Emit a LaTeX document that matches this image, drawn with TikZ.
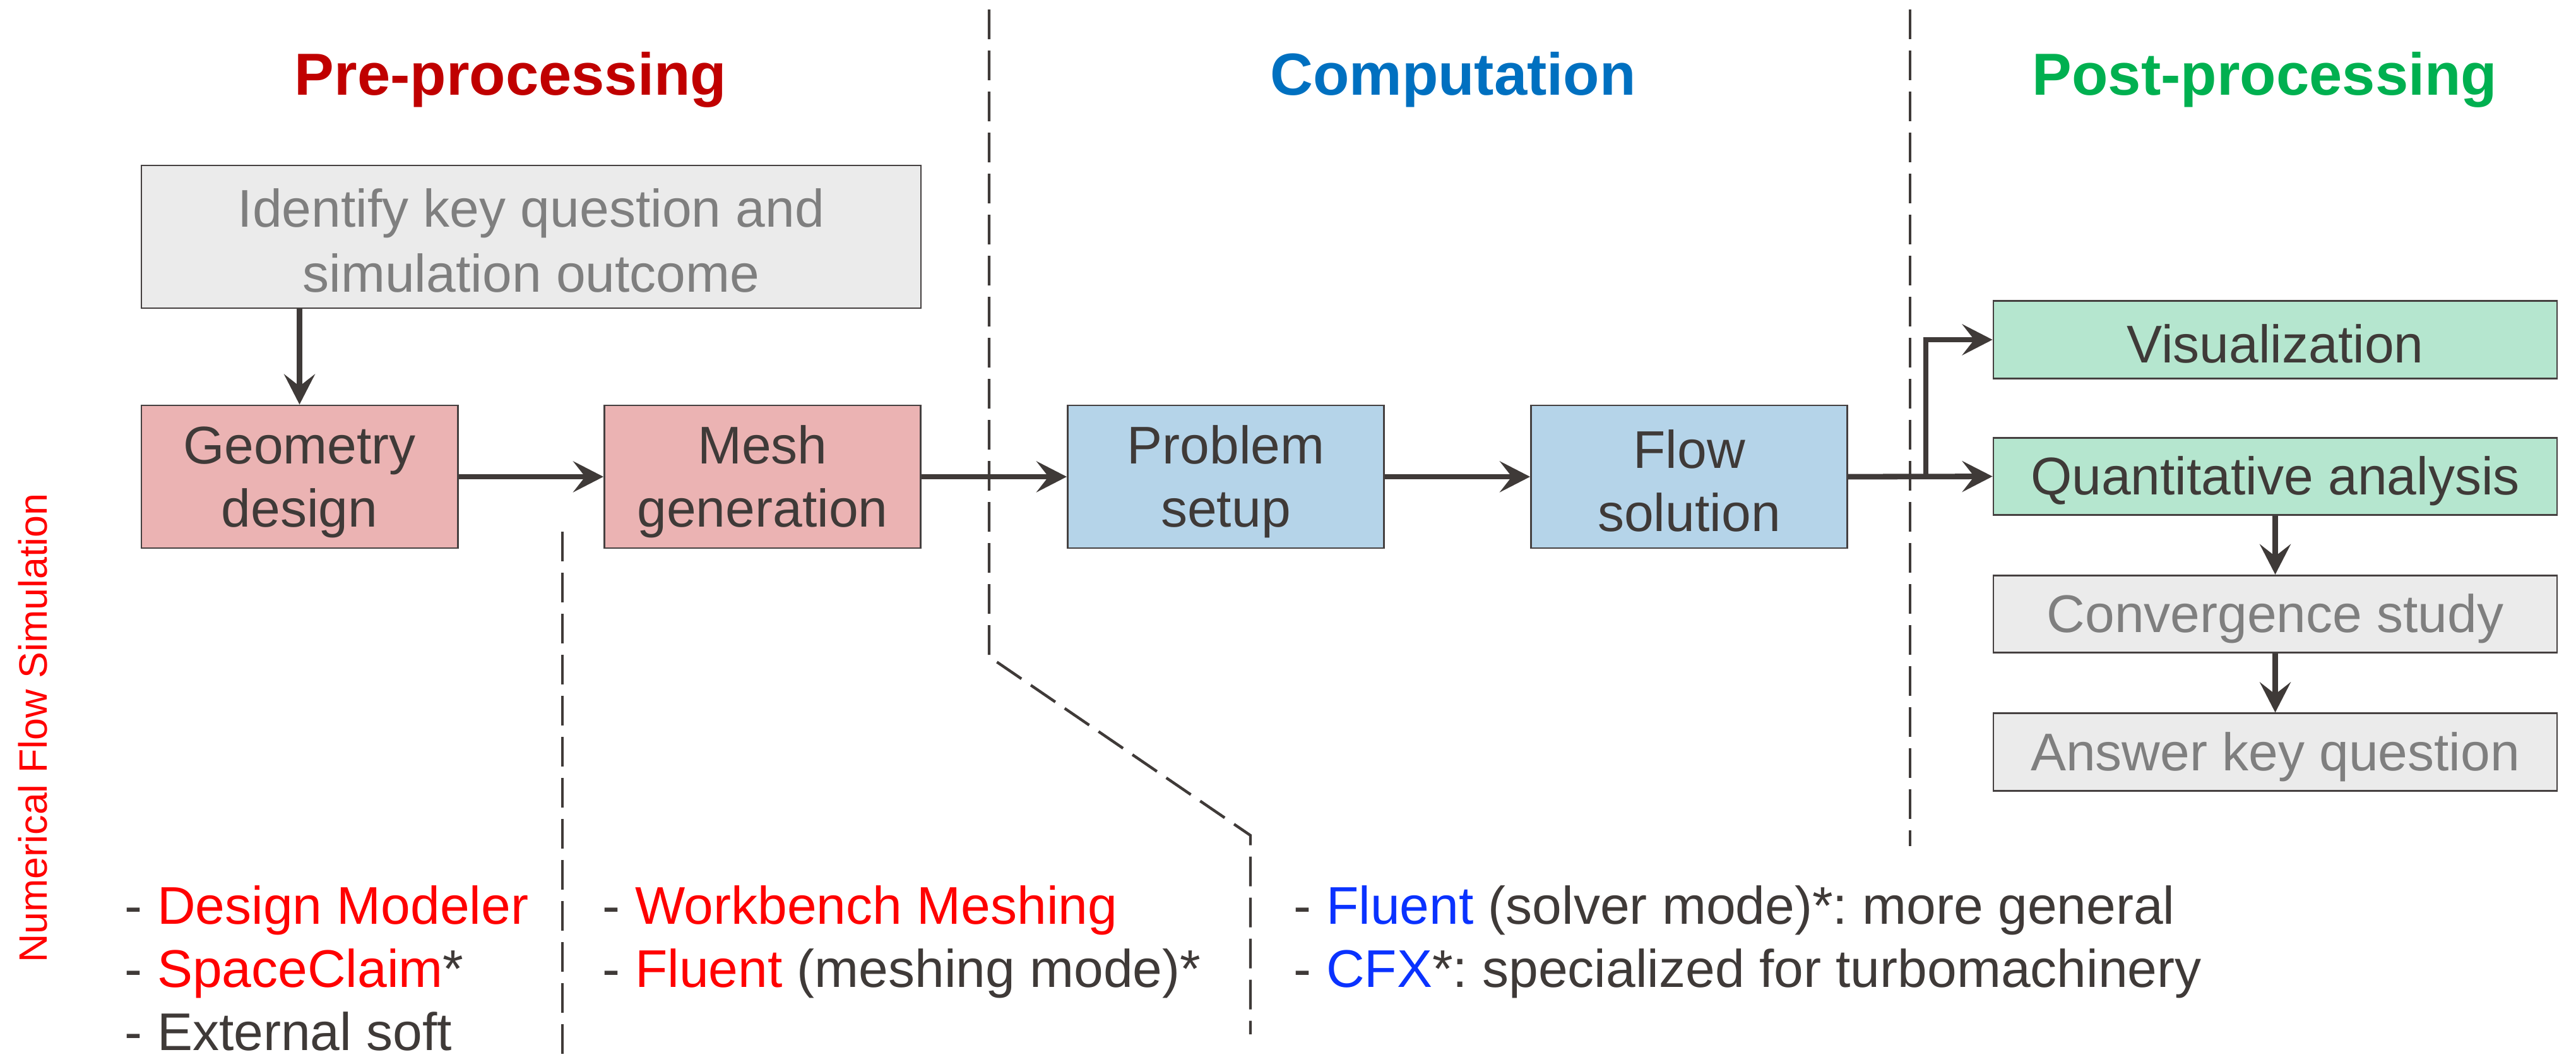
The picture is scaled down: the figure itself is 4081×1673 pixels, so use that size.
\documentclass[tikz,border=0pt]{standalone}
\usepackage{fontspec}
\setmainfont{Liberation Sans}
\usetikzlibrary{arrows.meta}
\frenchspacing
\definecolor{txt}{HTML}{3F3A38}
\definecolor{lnc}{HTML}{3F3A38}
\definecolor{boxline}{HTML}{454040}
\definecolor{graytxt}{HTML}{7F7F7F}
\definecolor{pinkfill}{HTML}{EBB3B3}
\definecolor{bluefill}{HTML}{B5D4E9}
\definecolor{greenfill}{HTML}{B5E6CF}
\definecolor{grayfill}{HTML}{EBEBEB}
\definecolor{pretitle}{HTML}{C00000}
\definecolor{comptitle}{HTML}{0070C0}
\definecolor{posttitle}{HTML}{00B050}
\definecolor{toolred}{HTML}{FF0000}
\definecolor{toolblue}{HTML}{0A32FF}
\newcommand\bxstrut{\rule[-1pt]{0pt}{20pt}}
\begin{document}
\begin{tikzpicture}[x=0.25pt,y=-0.25pt,
  box/.style={draw=boxline, line width=0.7pt, inner sep=0pt, align=center,
    font=\fontsize{21}{25}\selectfont, text=txt},
  stage/.style={box, minimum width=125.3pt, minimum height=56.5pt},
  post/.style={box, minimum width=223.25pt, minimum height=30.6pt},
  conn/.style={draw=lnc, line width=2.2pt, line join=miter,
    -{Stealth[length=12pt, width=12.25pt, inset=4.75pt]}},
  dashline/.style={draw=lnc, line width=1.1pt, dash pattern=on 11.75pt off 4.5pt},
  title/.style={anchor=base, inner sep=0pt, font=\bfseries\fontsize{23.5}{28}\selectfont},
  tools/.style={anchor=base west, inner sep=0pt, text=txt,
    font=\fontsize{21}{25}\selectfont}
]
\useasboundingbox (0,0) rectangle (4081,1673);

% dashed separators
\draw[dashline] (891,842) -- (891,1673);
\draw[dashline] (1567,15) -- (1567,1040) -- (1981,1323) -- (1981,1638);
\draw[dashline] (3026,15) -- (3026,1340);

% titles
\node[title, text=pretitle] (tpre) at (809,150) {Pre-processing};
\node[title, text=comptitle] (tcomp) at (2302,150) {Computation};
\node[title, text=posttitle] (tpost) at (3588,150) {Post-processing};

% side label
\node[rotate=90, inner sep=0pt, text=toolred, font=\fontsize{15.7}{18}\selectfont] (side) at (52,1153) {Numerical Flow Simulation};

% boxes
\node[box, fill=grayfill, text=graytxt, minimum width=308.75pt, minimum height=56.5pt,
  font=\fontsize{21}{25.75}\selectfont] (ident) at (841.5,375) {Identify key question and\bxstrut\\simulation outcome\bxstrut};
\node[stage, fill=pinkfill] (geom) at (474.5,755) {Geometry\bxstrut\\design\bxstrut};
\node[stage, fill=pinkfill] (mesh) at (1208,755) {Mesh\bxstrut\\generation\bxstrut};
\node[stage, fill=bluefill] (prob) at (1942,755) {Problem\bxstrut\\setup\bxstrut};
\node[stage, fill=bluefill] (flow) at (2676,755) {Flow\bxstrut\\solution\bxstrut};
\node[post, fill=greenfill] (vis) at (3604.5,538) {Visualization\bxstrut};
\node[post, fill=greenfill] (quant) at (3604.5,754.5) {Quantitative analysis\bxstrut};
\node[post, fill=grayfill, text=graytxt] (conv) at (3604.5,972.5) {Convergence study\bxstrut};
\node[post, fill=grayfill, text=graytxt] (ans) at (3604.5,1191) {Answer key question\bxstrut};

% connectors
\draw[conn] (ident.south -| geom.north) -- (geom.north);
\draw[conn] (geom.east) -- (mesh.west);
\draw[conn] (mesh.east) -- (prob.west);
\draw[conn] (prob.east) -- (flow.west);
\draw[conn] (flow.east) -- (quant.west);
\coordinate (branch) at (3051,755);
\draw[conn] (branch) |- (vis.west);
\draw[conn] (quant.south) -- (conv.north);
\draw[conn] (conv.south) -- (ans.north);

% tool lists
\node[tools] (tools1a) at (197,1463) {- \textcolor{toolred}{Design Modeler}};
\node[tools] (tools1b) at (197,1563) {- \textcolor{toolred}{SpaceClaim}*};
\node[tools] (tools1c) at (197,1663) {- External soft};
\node[tools] (tools2a) at (954,1463) {- \textcolor{toolred}{Workbench Meshing}};
\node[tools] (tools2b) at (954,1563) {- \textcolor{toolred}{Fluent} (meshing mode)*};
\node[tools] (tools3a) at (2049,1463) {- \textcolor{toolblue}{Fluent} (solver mode)*: more general};
\node[tools] (tools3b) at (2049,1563) {- \textcolor{toolblue}{CFX}*: specialized for turbomachinery};
\end{tikzpicture}
\end{document}
